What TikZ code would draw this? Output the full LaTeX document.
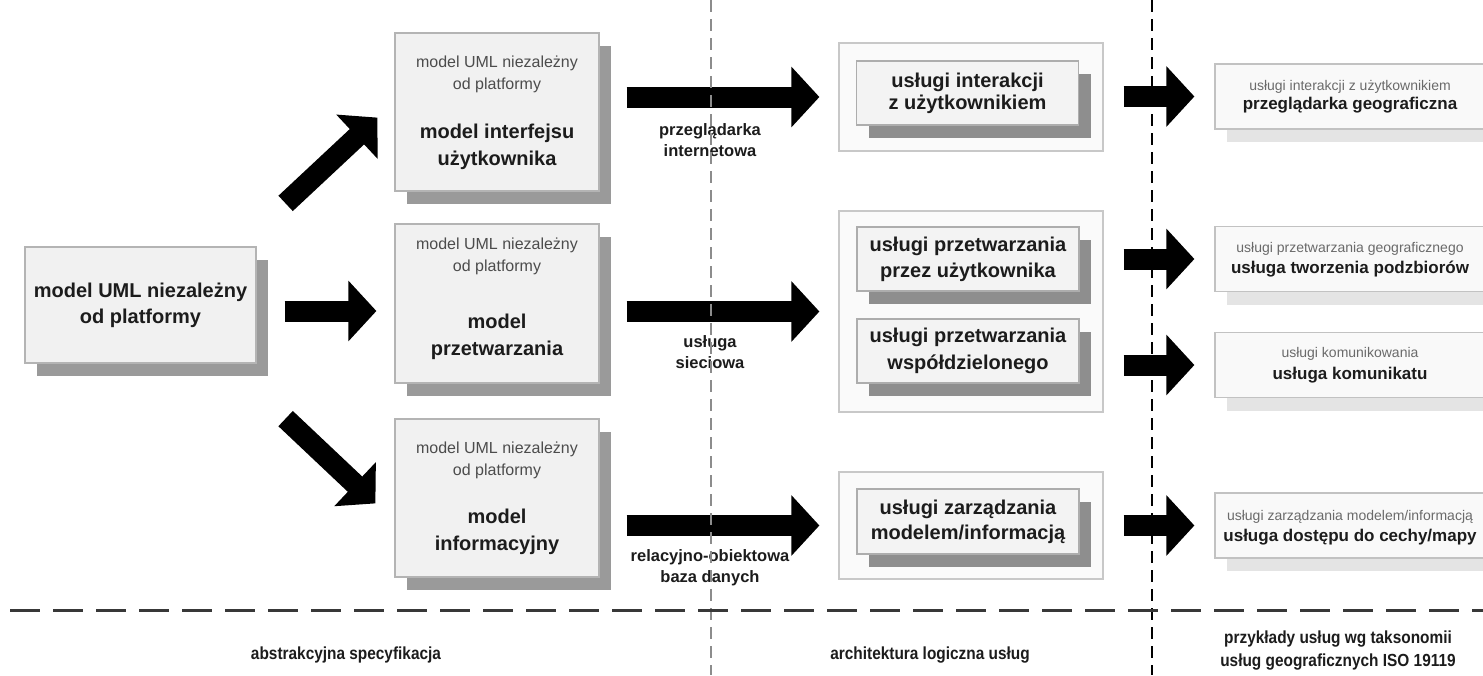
\documentclass[tikz,border=0pt]{standalone}
\usepackage{fontspec}
\setmainfont{Liberation Sans}
\newfontfamily\narrowsans[FakeStretch=0.88]{Liberation Sans}
\usetikzlibrary{arrows.meta,shadows}

\definecolor{boxfill}{HTML}{F1F1F1}
\definecolor{boxline}{HTML}{B4B4B4}
\definecolor{boxshadow}{HTML}{9A9A9A}
\definecolor{outerfill}{HTML}{FAFAFA}
\definecolor{outerline}{HTML}{C8C8C8}
\definecolor{innerfill}{HTML}{F3F3F3}
\definecolor{innerline}{HTML}{ADADAD}
\definecolor{innershadow}{HTML}{8E8E8E}
\definecolor{exfill}{HTML}{F9F9F9}
\definecolor{exline}{HTML}{C2C2C2}
\definecolor{exshadow}{HTML}{E4E4E4}
\definecolor{darktext}{HTML}{1C1C1C}
\definecolor{softtext}{HTML}{4C4C4C}
\definecolor{palertext}{HTML}{6A6A6A}

\tikzset{
  modelbox/.style={draw=boxline, fill=boxfill, line width=1.2pt, inner sep=0pt,
    general shadow={fill=boxshadow, shadow xshift=12pt, shadow yshift=-13pt}},
  groupbox/.style={draw=outerline, fill=outerfill, line width=1.2pt, inner sep=0pt},
  servicebox/.style={draw=innerline, fill=innerfill, line width=1.2pt, inner sep=0pt,
    align=center, text=darktext,
    general shadow={fill=innershadow, shadow xshift=12pt, shadow yshift=-13pt}},
  examplebox/.style={draw=exline, fill=exfill, line width=1.2pt, inner sep=0pt,
    minimum width=270pt, minimum height=65pt,
    general shadow={fill=exshadow, shadow xshift=12pt, shadow yshift=-13pt}},
  smalltxt/.style={align=center, text=softtext, inner sep=0pt,
    font=\fontsize{16}{22}\selectfont},
  boldtxt/.style={align=center, text=darktext, inner sep=0pt,
    font=\fontsize{20}{27}\selectfont\bfseries},
  flowlabel/.style={align=center, text=darktext, inner sep=0pt,
    font=\fontsize{16.5}{21}\selectfont\bfseries},
  exsmall/.style={text=palertext, inner sep=0pt, font=\fontsize{14}{16}\selectfont},
  exbold/.style={text=darktext, inner sep=0pt, font=\fontsize{17}{19}\selectfont\bfseries},
  footlabel/.style={align=center, text=darktext, inner sep=0pt,
    font=\narrowsans\fontsize{17.5}{23}\selectfont\bfseries},
  bigarrow/.style={black, line width=21pt, -{Triangle[length=28pt,width=59pt]}},
  thindash/.style={draw=black!45, line width=1.8pt, dash pattern=on 12pt off 7pt},
  blackdash/.style={draw=black, line width=1.4pt, dash pattern=on 12pt off 7pt},
  widedash/.style={draw=black!78, line width=3pt, dash pattern=on 30pt off 13pt},
}

\begin{document}
\begin{tikzpicture}[x=1pt,y=-1pt]
\useasboundingbox (0,0) rectangle (1483,675);
\fill[white] (0,0) rectangle (1483,675);
\clip (0,0) rectangle (1483,675);

% platform independent model
\node[modelbox, minimum width=231pt, minimum height=116pt, align=center,
      text=darktext, font=\fontsize{20}{26}\selectfont\bfseries]
  (A) at (140.5,305) {model UML niezależny\\od platformy};

% three derived models
\node[modelbox, minimum width=204pt, minimum height=158pt] (B1) at (497,112) {};
\node[smalltxt] (B1s) at (497,74) {model UML niezależny\\od platformy};
\node[boldtxt] (B1b) at (497,146.5) {model interfejsu\\użytkownika};

\node[modelbox, minimum width=204pt, minimum height=159pt] (B2) at (497,303.5) {};
\node[smalltxt] (B2s) at (497,256) {model UML niezależny\\od platformy};
\node[boldtxt] (B2b) at (497,337) {model\\przetwarzania};

\node[modelbox, minimum width=204pt, minimum height=158pt] (B3) at (497,498) {};
\node[smalltxt] (B3s) at (497,460) {model UML niezależny\\od platformy};
\node[boldtxt] (B3b) at (497,531.5) {model\\informacyjny};

% logical service architecture
\node[groupbox, minimum width=264pt, minimum height=108pt] (C1) at (971,97) {};
\node[servicebox, minimum width=222pt, minimum height=64pt,
      font=\fontsize{20}{22}\selectfont\bfseries]
  (C1a) at (967.5,93) {usługi interakcji\\z użytkownikiem};

\node[groupbox, minimum width=264pt, minimum height=201pt] (C2) at (971,311.5) {};
\node[servicebox, minimum width=222pt, minimum height=64pt,
      font=\fontsize{20}{26}\selectfont\bfseries]
  (C2a) at (968,259) {usługi przetwarzania\\przez użytkownika};
\node[servicebox, minimum width=222pt, minimum height=64pt,
      font=\fontsize{20}{27}\selectfont\bfseries]
  (C2b) at (968,351) {usługi przetwarzania\\współdzielonego};

\node[groupbox, minimum width=264pt, minimum height=107pt] (C3) at (971,525.5) {};
\node[servicebox, minimum width=222pt, minimum height=65pt,
      font=\fontsize{20}{25}\selectfont\bfseries]
  (C3a) at (968,521.5) {usługi zarządzania\\modelem/informacją};

% ISO 19119 examples
\node[examplebox] (D1) at (1350,96.5) {};
\node[exsmall] (D1s) at (1350,87) {usługi interakcji z użytkownikiem};
\node[exbold] (D1b) at (1350,105) {przeglądarka geograficzna};

\node[examplebox] (D2) at (1350,259) {};
\node[exsmall] (D2s) at (1350,249) {usługi przetwarzania geograficznego};
\node[exbold] (D2b) at (1350,269) {usługa tworzenia podzbiorów};

\node[examplebox] (D3) at (1350,365) {};
\node[exsmall] (D3s) at (1350,354) {usługi komunikowania};
\node[exbold] (D3b) at (1350,375) {usługa komunikatu};

\node[examplebox] (D4) at (1350,525.5) {};
\node[exsmall] (D4s) at (1350,517) {usługi zarządzania modelem/informacją};
\node[exbold] (D4b) at (1350,537) {usługa dostępu do cechy/mapy};

% arrows from the independent model
\draw[bigarrow] ([shift={(29,-43)}]A.north east) -- ([shift={(-17,-74)}]B1.south west);
\draw[bigarrow, shorten <=28pt, shorten >=18pt]
  ([yshift=-6pt]A.east) -- ([yshift=-6pt]A.east -| B2.west);
\draw[bigarrow] ([shift={(29,55)}]A.south east) -- ([shift={(-19,85)}]B3.north west);

% arrows to the logical architecture
\draw[bigarrow, shorten <=27pt, shorten >=19pt] (B1.east |- C1.west) -- (C1.west);
\draw[bigarrow, shorten <=27pt, shorten >=19pt] (B2.east |- C2.west) -- (C2.west);
\draw[bigarrow, shorten <=27pt, shorten >=19pt] (B3.east |- C3.west) -- (C3.west);

\node[flowlabel] (L1) at (710,140) {przeglądarka\\internetowa};
\node[flowlabel] (L2) at (710,352.5) {usługa\\sieciowa};
\node[flowlabel] (L3) at (710,567.5) {relacyjno-obiektowa\\baza danych};

% arrows to the examples
\draw[bigarrow, shorten <=20pt, shorten >=20pt] (C1.east |- D1.west) -- (D1.west);
\draw[bigarrow, shorten <=20pt, shorten >=20pt] (C2.east |- D2.west) -- (D2.west);
\draw[bigarrow, shorten <=20pt, shorten >=20pt] (C2.east |- D3.west) -- (D3.west);
\draw[bigarrow, shorten <=20pt, shorten >=20pt] (C3.east |- D4.west) -- (D4.west);

% column and row separators
\draw[thindash] (711,0) -- (711,675);
\draw[blackdash] (1152,0) -- (1152,675);
\draw[widedash] (10,610) -- (1483,610);

% column captions
\node[footlabel] (F1) at (346,655) {abstrakcyjna specyfikacja};
\node[footlabel] (F2) at (930,655) {architektura logiczna usług};
\node[footlabel] (F3) at (1338,651) {przykłady usług wg taksonomii\\usług geograficznych ISO 19119};
\end{tikzpicture}
\end{document}
